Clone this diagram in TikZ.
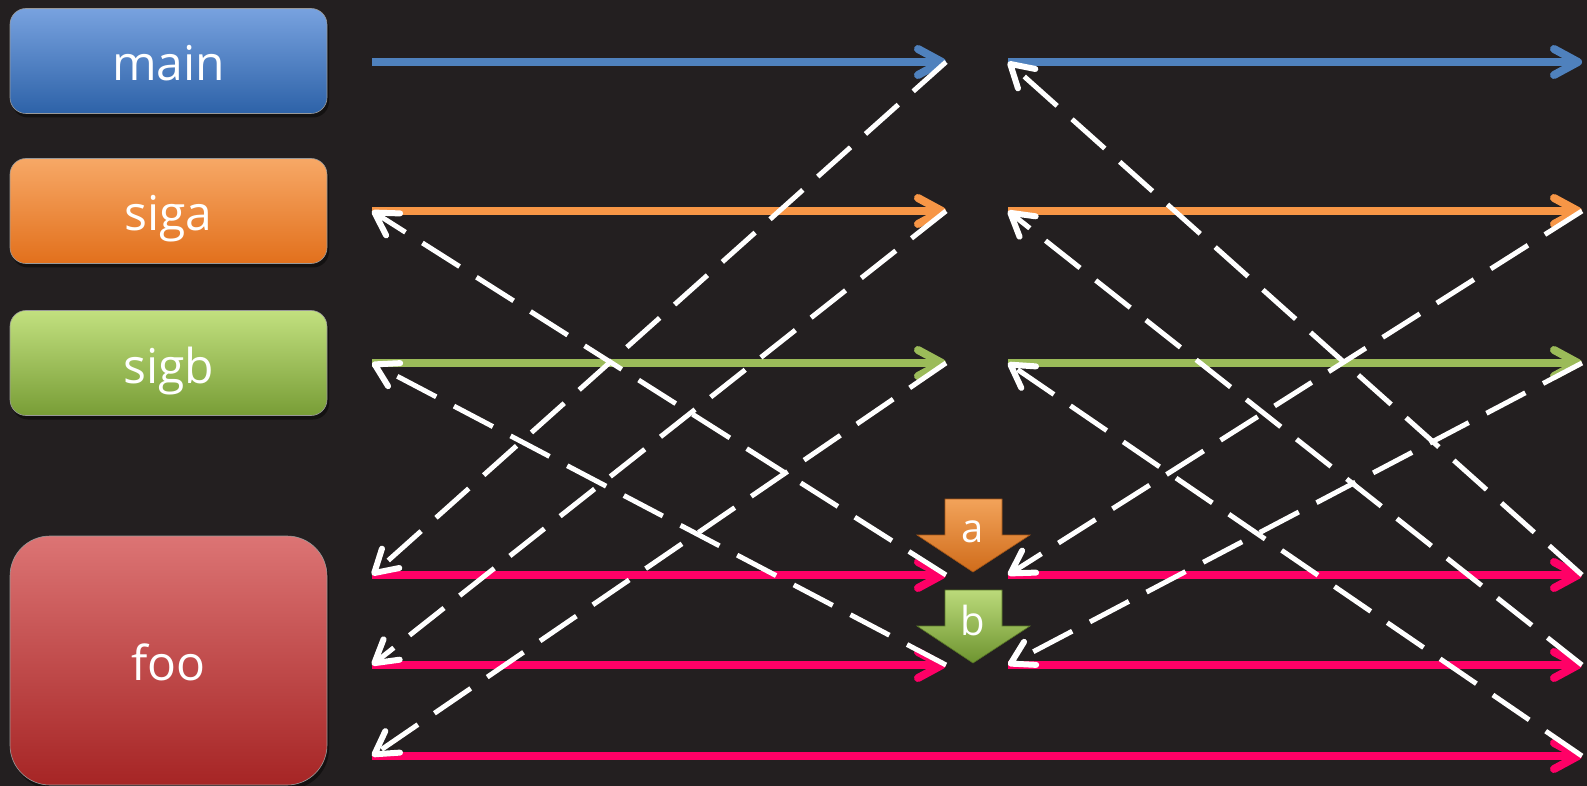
\documentclass[tikz,border=0pt]{standalone}
\usepackage{fontspec}
\setmainfont{Open Sans}
\usetikzlibrary{arrows.meta,shadows}
\definecolor{bg}{HTML}{231F20}
\definecolor{mainc}{HTML}{4F81BD}
\definecolor{sigac}{HTML}{F79646}
\definecolor{sigbc}{HTML}{9BBB59}
\definecolor{fooc}{HTML}{FF0066}
\definecolor{mainTop}{HTML}{78A2DF}
\definecolor{mainBot}{HTML}{2D62A8}
\definecolor{sigaTop}{HTML}{F7A866}
\definecolor{sigaBot}{HTML}{E2701C}
\definecolor{sigbTop}{HTML}{C2E07F}
\definecolor{sigbBot}{HTML}{789D36}
\definecolor{fooTop}{HTML}{DC7474}
\definecolor{fooBot}{HTML}{A62525}
\definecolor{aTop}{HTML}{F2A35A}
\definecolor{aBot}{HTML}{D06C1B}
\definecolor{bTop}{HTML}{BBDA7A}
\definecolor{bBot}{HTML}{6E9430}
\begin{document}
\begin{tikzpicture}[x=1pt,y=-1pt,
  box/.style={rounded corners=16pt, minimum width=317pt, minimum height=105pt,
    text=white, font=\fontsize{48}{56}\selectfont, text height=40pt, text depth=0pt,
    draw=black!40, line width=0.6pt,
    drop shadow={shadow xshift=2pt, shadow yshift=-4pt, opacity=0.45, fill=black}},
  sig/.style={line width=8pt, -{Straight Barb[length=24pt,width=26pt,round]}},
  ret/.style={white, line width=5pt, dash pattern=on 44pt off 20pt,
    -{Straight Barb[length=22pt,width=26pt,round,line width=6pt]}},
  lbl/.style={anchor=base, text=white, font=\fontsize{40}{48}\selectfont, inner sep=0pt},
]
\fill[bg] (0,0) rectangle (1587,786);
\useasboundingbox (0,0) rectangle (1587,786);

% boxes
\node[box, top color=mainTop, bottom color=mainBot] (main) at (168.5,61) {main};
\node[box, top color=sigaTop, bottom color=sigaBot] (siga) at (168.5,211) {siga};
\node[box, top color=sigbTop, bottom color=sigbBot] (sigb) at (168.5,363) {sigb};
\node[box, rounded corners=40pt, minimum height=249pt, top color=fooTop, bottom color=fooBot] (foo) at (168.5,660.5) {foo};

% coordinates
\foreach \n/\y in {m/62, a/211, b/363, fa/575, fb/665, fc/756}{
  \coordinate (\n L) at (372,\y);
  \coordinate (\n A) at (946,\y);
  \coordinate (\n B) at (1008,\y);
  \coordinate (\n R) at (1582,\y);
}

% signal lines
\draw[sig, mainc] (mL) -- (mA);
\draw[sig, mainc] (mB) -- (mR);
\draw[sig, sigac] (aL) -- (aA);
\draw[sig, sigac] (aB) -- (aR);
\draw[sig, sigbc] (bL) -- (bA);
\draw[sig, sigbc] (bB) -- (bR);
\draw[sig, fooc] (faL) -- (faA);
\draw[sig, fooc] (faB) -- (faR);
\draw[sig, fooc] (fbL) -- (fbA);
\draw[sig, fooc] (fbB) -- (fbR);
\draw[sig, fooc] (fcL) -- (fcR);

% dashed returns
\draw[ret] (mA) -- (faL);
\draw[ret] (aA) -- (fbL);
\draw[ret] (bA) -- (fcL);
\draw[ret] (faA) -- (aL);
\draw[ret] (fbA) -- (bL);
\draw[ret] (faR) -- (mB);
\draw[ret] (fbR) -- (aB);
\draw[ret] (fcR) -- (bB);
\draw[ret] (aR) -- (faB);
\draw[ret] (bR) -- (fbB);

% down arrows a / b
\path[top color=aTop, bottom color=aBot, draw=aBot!80!black, line width=0.6pt]
  (945,499) -- (1002,499) -- (1002,535) -- (1030,535) -- (973,572) -- (917,535) -- (945,535) -- cycle;
\node[lbl] (la) at (973,542) {a};
\path[top color=bTop, bottom color=bBot, draw=bBot!80!black, line width=0.6pt]
  (945,590) -- (1002,590) -- (1002,626) -- (1030,626) -- (973,663) -- (917,626) -- (945,626) -- cycle;
\node[lbl] (lb) at (973,635) {b};
\end{tikzpicture}
\end{document}
